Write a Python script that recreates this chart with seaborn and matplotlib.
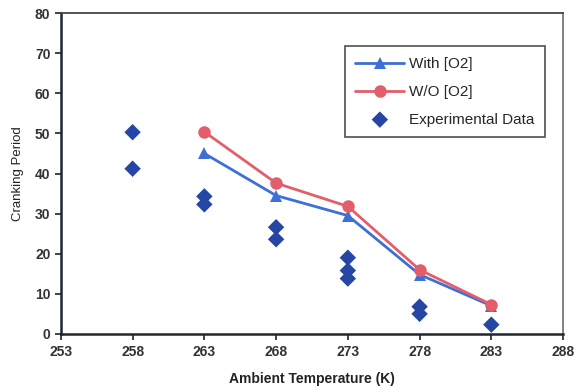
import matplotlib
matplotlib.use("Agg")
import matplotlib.pyplot as plt
import seaborn as sns
import pandas as pd

temps = [263, 268, 273, 278, 283]
with_o2 = [45.0, 34.5, 29.5, 14.8, 7.0]
without_o2 = [50.4, 37.6, 31.8, 16.0, 7.3]
exp_temp = [258, 258, 263, 263, 268, 268, 273, 273, 273, 278, 278, 283]
exp_val = [50.3, 41.2, 34.3, 32.3, 26.6, 23.6, 19.0, 15.8, 13.8, 6.8, 5.0, 2.3]
x_ticks = [253, 258, 263, 268, 273, 278, 283, 288]
y_ticks = [0, 10, 20, 30, 40, 50, 60, 70, 80]

sns.set_style("white")
plt.rcParams['font.family'] = ['Liberation Sans', 'DejaVu Sans']

fig = plt.figure(figsize=(5.74, 3.86), dpi=100)
ax = fig.add_axes([0.106, 0.135, 0.875, 0.831])

blue = "#3d6fd6"
red = "#e35e6b"
dark = "#2547a3"

df_w = pd.DataFrame({"T": temps, "v": with_o2})
df_wo = pd.DataFrame({"T": temps, "v": without_o2})
df_e = pd.DataFrame({"T": exp_temp, "v": exp_val})

sns.lineplot(data=df_wo, x="T", y="v", ax=ax, color=red, marker="o", markersize=9,
             markeredgewidth=0, linewidth=2, label="W/O [O2]", zorder=3)
sns.lineplot(data=df_w, x="T", y="v", ax=ax, color=blue, marker="^", markersize=9,
             markeredgewidth=0, linewidth=2, label="With [O2]", zorder=2)
sns.scatterplot(data=df_e, x="T", y="v", ax=ax, color=dark, marker="D", s=70,
                edgecolor="none", label="Experimental Data", zorder=4)

ax.set_xlim(253, 288)
ax.set_ylim(0, 80)
ax.set_xticks(x_ticks)
ax.set_yticks(y_ticks)
ax.tick_params(axis="both", direction="out", length=4, width=1.2, color="#222222",
               labelsize=10, labelcolor="#333333", left=True, bottom=True)
for lbl in ax.get_xticklabels() + ax.get_yticklabels():
    lbl.set_fontweight("bold")
ax.tick_params(axis="x", pad=4)

ax.set_xlabel("Ambient Temperature (K)", fontsize=10, fontweight="bold", color="#222222", labelpad=9)
ax.set_ylabel("Cranking Period", fontsize=9.5, color="#222222", labelpad=8)

for side in ["left", "bottom"]:
    ax.spines[side].set_color("#1f2630")
    ax.spines[side].set_linewidth(1.8)
ax.spines["top"].set_color("#444444")
ax.spines["top"].set_linewidth(1.3)
ax.spines["right"].set_color("#777777")
ax.spines["right"].set_linewidth(1.3)

handles, labels = ax.get_legend_handles_labels()
order = [labels.index("With [O2]"), labels.index("W/O [O2]"), labels.index("Experimental Data")]
leg = ax.legend([handles[i] for i in order], [labels[i] for i in order],
                loc="upper left", bbox_to_anchor=(0.55, 0.92), frameon=True,
                fancybox=False, edgecolor="#222222", fontsize=11,
                handlelength=3.2, borderpad=0.7, labelspacing=0.9, handletextpad=0.3)
leg.get_frame().set_linewidth(1.2)

fig.savefig("out.png", dpi=100)
